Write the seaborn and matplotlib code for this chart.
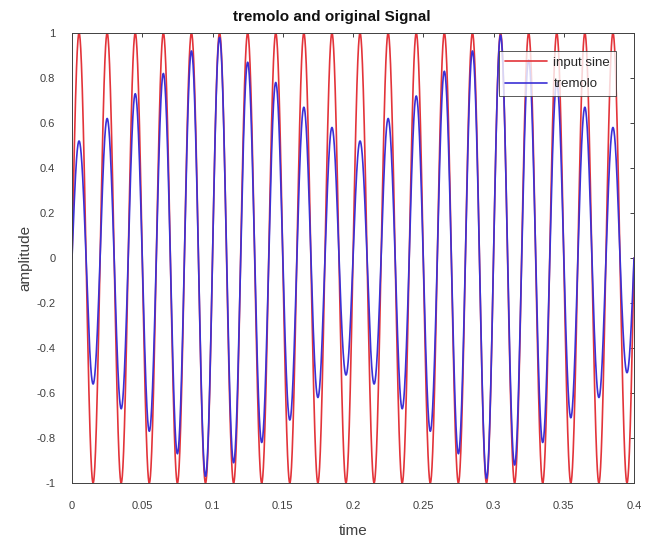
import numpy as np
import pandas as pd
import matplotlib
matplotlib.use("Agg")
import matplotlib.pyplot as plt
import seaborn as sns

# signal settings
duration = 0.4          # seconds shown on the time axis
carrier_hz = 50         # 20 full cycles over 0.4 s
n_samples = 4001

# tremolo peak height of each half cycle (t = 0.005, 0.015, ...)
tremolo_peaks = [0.52, 0.56, 0.62, 0.67, 0.73, 0.77, 0.82, 0.87, 0.92, 0.97,
                 0.98, 0.91, 0.87, 0.82, 0.78, 0.72, 0.67, 0.62, 0.58, 0.52,
                 0.52, 0.56, 0.62, 0.67, 0.72, 0.77, 0.83, 0.87, 0.92, 0.98,
                 0.99, 0.92, 0.88, 0.82, 0.78, 0.71, 0.67, 0.62, 0.58, 0.51]

x_ticks = [0, 0.05, 0.1, 0.15, 0.2, 0.25, 0.3, 0.35, 0.4]
x_tick_labels = ["0", "0.05", "0.1", "0.15", "0.2", "0.25", "0.3", "0.35", "0.4"]
y_ticks = [-1, -0.8, -0.6, -0.4, -0.2, 0, 0.2, 0.4, 0.6, 0.8, 1]
y_tick_labels = ["-1", "-0.8", "-0.6", "-0.4", "-0.2", "0", "0.2", "0.4", "0.6", "0.8", "1"]


def build_frame():
    t = np.linspace(0, duration, n_samples)
    carrier = np.sin(2 * np.pi * carrier_hz * t)
    half = np.minimum((t * 2 * carrier_hz).astype(int), len(tremolo_peaks) - 1)
    tremolo = carrier * np.array(tremolo_peaks)[half]
    df = pd.concat([
        pd.DataFrame({"time": t, "amplitude": carrier, "signal": "input sine"}),
        pd.DataFrame({"time": t, "amplitude": tremolo, "signal": "tremolo"}),
    ])
    return df


def draw(df):
    sns.set_style("white")
    plt.rcParams["font.family"] = ["Liberation Sans", "DejaVu Sans"]
    fig = plt.figure(figsize=(6.56, 5.39), dpi=100)
    ax = fig.add_axes([0.1098, 0.1039, 0.8567, 0.8349])

    sns.lineplot(data=df, x="time", y="amplitude", hue="signal",
                 palette={"input sine": "#e3343a", "tremolo": "#3b30d6"},
                 linewidth=1.2, estimator=None, ax=ax)

    ax.set_xlim(0, 0.4)
    ax.set_ylim(-1, 1)
    ax.set_xticks(x_ticks)
    ax.set_xticklabels(x_tick_labels)
    ax.set_yticks(y_ticks)
    ax.set_yticklabels(y_tick_labels)
    ax.tick_params(direction="in", length=3, width=0.7, labelsize=8,
                   colors="#404040", top=True, right=True)
    ax.tick_params(axis="x", pad=13)
    ax.tick_params(axis="y", pad=12)
    for side in ax.spines.values():
        side.set_color("#404040")
        side.set_linewidth(0.7)

    fig.text(332 / 656, 1 - 17 / 539, "tremolo and original Signal", fontsize=11,
             fontweight="bold", ha="center", va="center", color="#111111")
    ax.set_xlabel("time", fontsize=11, color="#404040", labelpad=9)
    ax.set_ylabel("amplitude", fontsize=11, color="#404040", labelpad=3)

    leg = ax.legend(loc="upper right", bbox_to_anchor=(0.968, 0.961), fontsize=9.5,
                    frameon=True, fancybox=False, handlelength=3.2, borderpad=0.45,
                    labelspacing=0.7, handletextpad=0.5, borderaxespad=0)
    leg.get_frame().set_edgecolor("#303030")
    leg.get_frame().set_linewidth(0.7)

    fig.savefig("out.png", dpi=100)


if __name__ == "__main__":
    draw(build_frame())
